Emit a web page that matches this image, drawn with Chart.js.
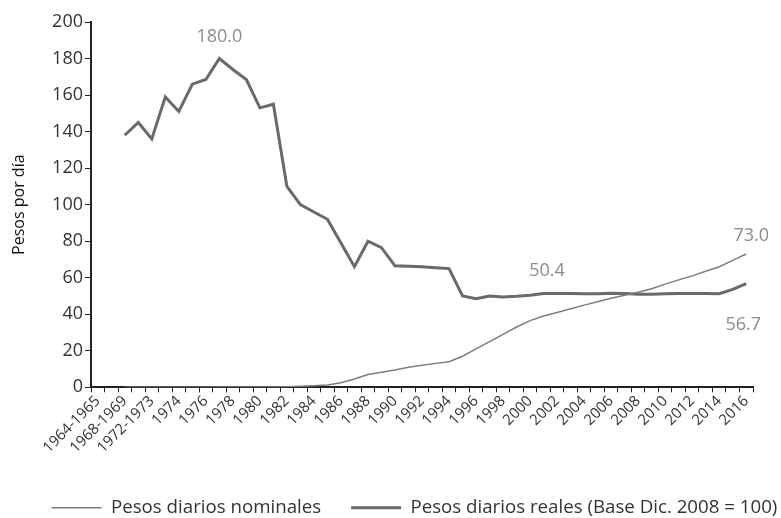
<!DOCTYPE html>
<html>
<head>
<meta charset="utf-8">
<script src="https://cdn.jsdelivr.net/npm/chart.js@4/dist/chart.umd.min.js"></script>
<style>
  html, body { margin: 0; padding: 0; background: #fff; }
  #wrap { width: 781px; height: 518px; }
</style>
</head>
<body>
<div id="wrap"><canvas id="chart"></canvas></div>
<script>
// periodos (las etiquetas se muestran una si y otra no, como en el original)
var periods = ['1964-1965', '1966-1967', '1968-1969', '1970-1971', '1972-1973', '1973',
  '1974', '1975', '1976', '1977', '1978', '1979', '1980', '1981', '1982', '1983', '1984',
  '1985', '1986', '1987', '1988', '1989', '1990', '1991', '1992', '1993', '1994', '1995',
  '1996', '1997', '1998', '1999', '2000', '2001', '2002', '2003', '2004', '2005', '2006',
  '2007', '2008', '2009', '2010', '2011', '2012', '2013', '2014', '2015', '2016'];

// pesos diarios nominales
var nominal = [null, null, 0.03, 0.03, 0.04, 0.05,
  0.06, 0.07, 0.09, 0.11, 0.12, 0.14, 0.16, 0.21, 0.35, 0.52, 0.82,
  1.25, 2.5, 4.5, 7.0, 8.2, 9.5, 11.0, 12.1, 13.1, 14.0, 17.0,
  21.0, 25.0, 29.0, 33.0, 36.5, 39.0, 41.0, 43.0, 45.0, 46.8, 48.7,
  50.4, 52.0, 54.0, 56.5, 58.8, 61.0, 63.5, 66.0, 69.5, 73.0];

// pesos diarios reales (base dic. 2008 = 100)
var real = [null, null, 138, 145, 136, 159,
  151, 166, 168.5, 180, 174, 168.5, 153, 155, 110, 100, 96,
  92, 79, 66, 80, 76.5, 66.5, 66.3, 66, 65.5, 65, 50,
  48.5, 50, 49.5, 49.8, 50.4, 51.3, 51.3, 51.3, 51.2, 51.2, 51.5,
  51.4, 51, 51, 51.2, 51.3, 51.3, 51.3, 51.2, 53.6, 56.7];

var yTicks = [0, 20, 40, 60, 80, 100, 120, 140, 160, 180, 200];

// etiquetas de valores sobre la linea
var valueLabels = [
  { ds: 1, i: 9, text: '180.0', dx: 0, dy: -22 },
  { ds: 1, i: 32, text: '50.4', dx: 17, dy: -24 },
  { ds: 0, i: 48, text: '73.0', dx: 5, dy: -18 },
  { ds: 1, i: 48, text: '56.7', dx: -3, dy: 41 }
];

var FONT = '"Open Sans", Lato, sans-serif';

var labelPlugin = {
  id: 'valueLabels',
  afterLayout: function (chart) {
    // la leyenda del original esta corrida a la derecha
    chart.legend.left += 36;
    chart.legend.right += 36;
  },
  afterDatasetsDraw: function (chart) {
    var ctx = chart.ctx;
    var xs = chart.scales.x, ys = chart.scales.y;
    ctx.save();
    ctx.font = '18px ' + FONT;
    ctx.fillStyle = '#8c8c8c';
    ctx.textAlign = 'center';
    ctx.textBaseline = 'middle';
    valueLabels.forEach(function (l) {
      var v = chart.data.datasets[l.ds].data[l.i];
      ctx.fillText(l.text, xs.getPixelForValue(l.i) + l.dx, ys.getPixelForValue(v) + l.dy);
    });
    ctx.restore();
  }
};

var options = {
  type: 'line',
  data: {
    labels: periods,
    datasets: [
      {
        label: 'Pesos diarios nominales',
        data: nominal,
        borderColor: '#7d7d7d',
        backgroundColor: '#7d7d7d',
        borderWidth: 1.5,
        pointRadius: 0,
        tension: 0
      },
      {
        label: 'Pesos diarios reales (Base Dic. 2008 = 100)',
        data: real,
        borderColor: '#6a6a6a',
        backgroundColor: '#6a6a6a',
        borderWidth: 3,
        pointRadius: 0,
        tension: 0
      }
    ]
  },
  options: {
    responsive: true,
    maintainAspectRatio: false,
    animation: false,
    layout: { padding: { top: 22, right: 28, left: 4, bottom: -9 } },
    plugins: {
      tooltip: { enabled: false },
      legend: {
        position: 'bottom',
        labels: {
          boxWidth: 50,
          boxHeight: 0,
          padding: 5,
          color: '#333',
          font: { family: FONT, size: 18.7 },
          generateLabels: function (chart) {
            var items = Chart.defaults.plugins.legend.labels.generateLabels(chart);
            // un poco mas de aire entre las dos entradas
            items[0].text += '\u2003\u2004';
            return items;
          }
        }
      }
    },
    scales: {
      x: {
        offset: true,
        grid: { display: true, drawOnChartArea: false, color: '#222', tickLength: 5, offset: true },
        border: { color: '#222', width: 2 },
        ticks: {
          autoSkip: false,
          maxRotation: 45,
          minRotation: 45,
          padding: 0,
          color: '#333',
          font: { family: FONT, size: 15 },
          callback: function (val, idx) { return idx % 2 === 0 ? periods[idx] : ''; }
        },
        afterFit: function (scale) { scale.height = 106; }
      },
      y: {
        min: 0,
        max: 200,
        afterBuildTicks: function (scale) {
          scale.ticks = yTicks.map(function (v) { return { value: v }; });
        },
        afterFit: function (scale) { scale.width = 87; },
        grid: { display: true, drawOnChartArea: false, color: '#222', tickLength: 6 },
        border: { color: '#222', width: 2 },
        ticks: {
          color: '#333',
          padding: 2,
          font: { family: FONT, size: 18 }
        },
        title: {
          display: true,
          text: 'Pesos por día',
          color: '#111',
          padding: { top: 6, bottom: 0 },
          font: { family: FONT, size: 16 }
        }
      }
    }
  },
  plugins: [labelPlugin]
};

var ctx = document.getElementById('chart').getContext('2d');
new Chart(ctx, options);
</script>
</body>
</html>
